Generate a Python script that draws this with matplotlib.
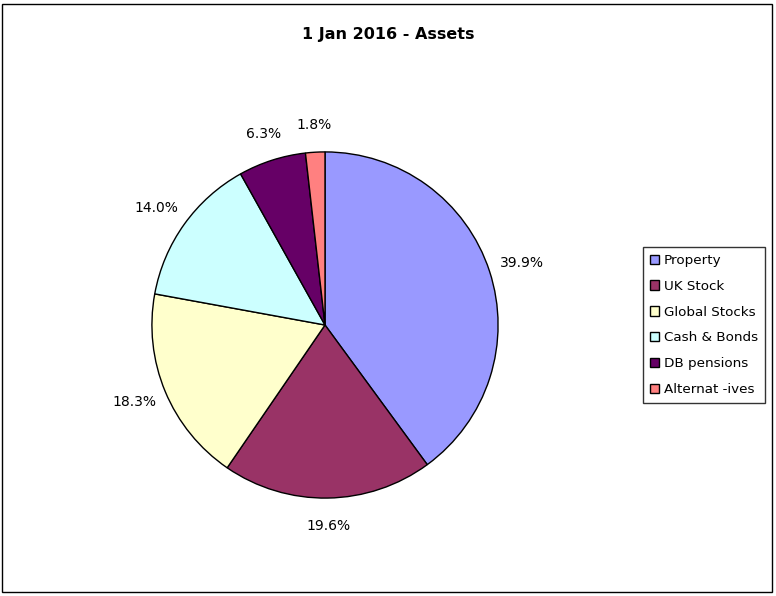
import matplotlib
matplotlib.use("Agg")
import matplotlib.pyplot as plt
from matplotlib.patches import Rectangle

categories = ["Property", "UK Stock", "Global Stocks", "Cash & Bonds", "DB pensions", "Alternat -ives"]
values = [39.9, 19.6, 18.3, 14.0, 6.3, 1.8]
colors = ["#9999FF", "#993366", "#FFFFCC", "#CCFFFF", "#660066", "#FF8080"]
title = "1 Jan 2016 - Assets"

plt.rcParams['font.family'] = ['DejaVu Sans']

fig = plt.figure(figsize=(7.76, 5.96), dpi=100)
fig.patches.append(Rectangle((2/776, 4/596), 770/776, 588/596, transform=fig.transFigure,
                             fill=False, edgecolor='black', linewidth=1.0))

ax = fig.add_axes([100/776, 46/596, 450/776, 450/596])
wedges, texts, autotexts = ax.pie(values, colors=colors, startangle=90, counterclock=False,
                                  autopct=lambda p: f"{p:.1f}%", pctdistance=1.16,
                                  wedgeprops=dict(edgecolor='black', linewidth=1.0),
                                  textprops=dict(fontsize=10, color='black'))
for t, v in zip(autotexts, values):
    t.set_text(f"{v:.1f}%")
    x, y = t.get_position()
    if abs(x) > 0.8:
        t.set_position((x * 1.03, y))
ax.set_xlim(-1.3, 1.3)
ax.set_ylim(-1.3, 1.3)
ax.set_aspect('equal')

fig.text(388/776, 1 - 35/596, title, ha='center', va='center', fontsize=11.5, fontweight='bold')

leg = fig.legend(wedges, categories, loc='center left', bbox_to_anchor=(643/776, 271/596),
                 fontsize=9.7, frameon=True, fancybox=False, labelspacing=0.95,
                 handlelength=0.7, handleheight=0.7, handletextpad=0.35, borderpad=0.5,
                 borderaxespad=0)
leg.get_frame().set_edgecolor('black')
leg.get_frame().set_linewidth(1.0)

fig.savefig("out.png", dpi=100)
